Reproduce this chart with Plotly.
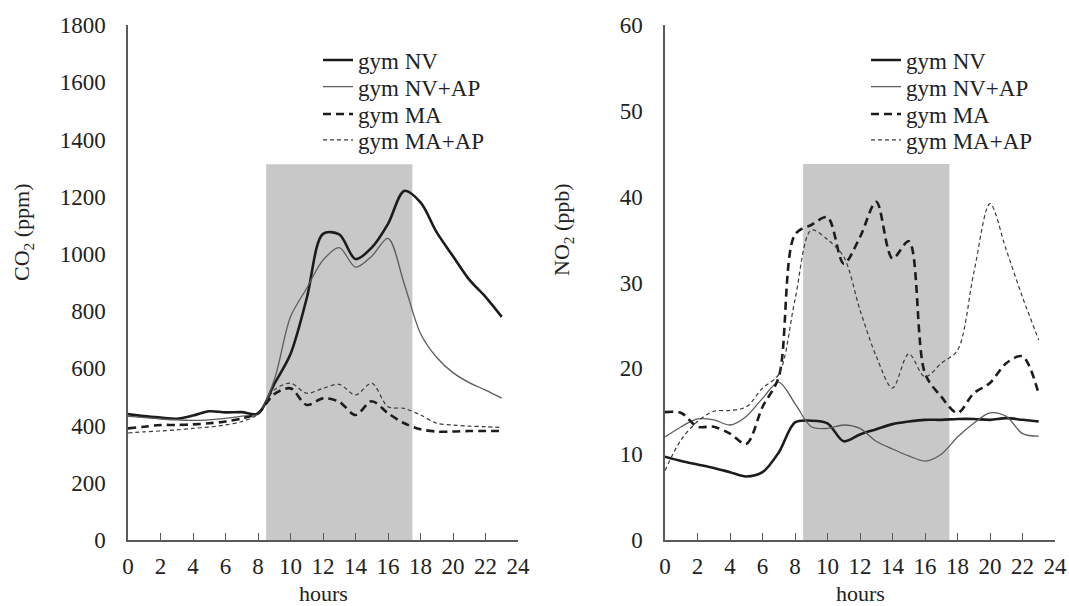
import plotly.graph_objects as go

# ---------------- data ----------------
hours = list(range(24))

co2_nv = [440, 433, 428, 424, 435, 450, 446, 447, 442, 545, 650, 845, 1070, 1068, 982, 1022, 1105, 1220, 1180, 1075, 992, 910, 850, 780]
co2_nv_ap = [432, 428, 423, 420, 418, 420, 425, 433, 440, 560, 780, 880, 978, 1022, 954, 992, 1054, 895, 722, 638, 585, 550, 524, 496]
co2_ma = [390, 396, 402, 402, 404, 408, 414, 425, 443, 510, 530, 472, 495, 483, 437, 485, 443, 408, 387, 379, 379, 381, 381, 381]
co2_ma_ap = [374, 378, 381, 385, 390, 395, 402, 414, 440, 524, 548, 513, 530, 544, 507, 548, 466, 460, 437, 408, 402, 398, 396, 393]

no2_nv = [9.7, 9.2, 8.8, 8.4, 7.9, 7.4, 7.9, 10.2, 13.7, 13.9, 13.6, 11.5, 12.3, 12.9, 13.5, 13.8, 14.0, 14.0, 14.1, 14.1, 14.0, 14.2, 14.0, 13.8]
no2_nv_ap = [12.0, 13.2, 14.1, 14.0, 13.4, 14.4, 16.5, 18.4, 15.9, 13.2, 13.0, 13.4, 13.0, 11.5, 10.6, 9.8, 9.2, 10.0, 12.0, 13.6, 14.8, 14.4, 12.4, 12.1]
no2_ma = [14.9, 14.8, 13.2, 13.2, 12.4, 11.2, 15.5, 19.0, 35.6, 36.7, 37.6, 32.2, 35.3, 39.4, 32.8, 34.8, 19.4, 16.7, 14.8, 17.1, 18.3, 20.6, 21.4, 17.0]
no2_ma_ap = [8.1, 11.7, 13.8, 15.0, 15.1, 15.5, 17.7, 19.3, 28.0, 36.1, 35.0, 33.0, 26.8, 21.4, 17.7, 21.7, 19.0, 20.6, 22.1, 31.1, 39.2, 33.8, 28.3, 23.3]

series_names = ["gym NV", "gym NV+AP", "gym MA", "gym MA+AP"]
shade_start, shade_end = 8.5, 17.5
co2_shade_top, no2_shade_top = 1313, 43.8
x_ticks = list(range(0, 25, 2))

# ---------------- styling ----------------
FONT = "Liberation Serif"
TXT = "#222222"
AXC = "#5a5a5a"
styles = [
    dict(color="#1c1c1c", width=2.6, dash="solid"),
    dict(color="#5c5c5c", width=1.3, dash="solid"),
    dict(color="#1c1c1c", width=2.6, dash="8px,5px"),
    dict(color="#3a3a3a", width=1.2, dash="4px,3px"),
]

W, H = 1069, 606
def px_x(p):
    return p / W
def px_y(p):
    return 1 - p / H

row_y = [60, 86.7, 114, 140]
legend_left_x = [318, 866]

fig = go.Figure()
legend_layout = {}
panels = [
    ("x", "y", [co2_nv, co2_nv_ap, co2_ma, co2_ma_ap]),
    ("x2", "y2", [no2_nv, no2_nv_ap, no2_ma, no2_ma_ap]),
]
k = 0
for p, (xa, ya, datasets) in enumerate(panels):
    for i, (data, st, name) in enumerate(zip(datasets, styles, series_names)):
        k += 1
        lname = "legend" if k == 1 else f"legend{k}"
        fig.add_trace(go.Scatter(x=hours, y=data, name=name, mode="lines",
                                 line=dict(shape="spline", smoothing=0.9, **st),
                                 xaxis=xa, yaxis=ya, legend=lname))
        legend_layout[lname] = dict(x=px_x(legend_left_x[p]), y=px_y(row_y[i]),
                                    xanchor="left", yanchor="middle",
                                    font=dict(family=FONT, size=23, color=TXT),
                                    bgcolor="rgba(0,0,0,0)", borderwidth=0, itemwidth=30)

xcommon = dict(range=[0, 24], tickvals=x_ticks, ticks="inside", ticklen=7, tickwidth=1.3,
               tickcolor=AXC, showline=True, linecolor=AXC, linewidth=1.5,
               showgrid=False, zeroline=False, automargin=False,
               tickfont=dict(family=FONT, size=23, color=TXT), ticklabelstandoff=5)
ycommon = dict(showline=True, linecolor=AXC, linewidth=1.5, showgrid=False, zeroline=False,
               automargin=False, ticks="", tickfont=dict(family=FONT, size=23, color=TXT),
               ticklabelstandoff=16)

fig.update_layout(
    width=W, height=H,
    margin=dict(l=0, r=0, t=0, b=0, pad=0, autoexpand=False),
    paper_bgcolor="white", plot_bgcolor="white",
    xaxis=dict(domain=[px_x(128), px_x(518)], anchor="y", **xcommon),
    yaxis=dict(domain=[px_y(540), px_y(25)], anchor="x", range=[0, 1800], dtick=200, **ycommon),
    xaxis2=dict(domain=[px_x(665), px_x(1055)], anchor="y2", **xcommon),
    yaxis2=dict(domain=[px_y(540), px_y(25)], anchor="x2", range=[0, 60], dtick=10, **ycommon),
    showlegend=True,
    **legend_layout,
)

fig.add_shape(type="rect", xref="x", yref="y", x0=shade_start, x1=shade_end, y0=0, y1=co2_shade_top,
              fillcolor="#c8c8c8", line=dict(width=0), layer="below")
fig.add_shape(type="rect", xref="x2", yref="y2", x0=shade_start, x1=shade_end, y0=0, y1=no2_shade_top,
              fillcolor="#c8c8c8", line=dict(width=0), layer="below")

ann_font = dict(family=FONT, size=22, color=TXT)
fig.add_annotation(text="CO<sub>2</sub> (ppm)", x=px_x(23), y=px_y(232), xref="paper", yref="paper",
                   textangle=-90, showarrow=False, font=ann_font, xanchor="center", yanchor="middle")
fig.add_annotation(text="NO<sub>2</sub> (ppb)", x=px_x(563), y=px_y(230), xref="paper", yref="paper",
                   textangle=-90, showarrow=False, font=ann_font, xanchor="center", yanchor="middle")
fig.add_annotation(text="hours", x=px_x(323), y=px_y(593), xref="paper", yref="paper",
                   showarrow=False, font=ann_font, xanchor="center", yanchor="middle")
fig.add_annotation(text="hours", x=px_x(860), y=px_y(593), xref="paper", yref="paper",
                   showarrow=False, font=ann_font, xanchor="center", yanchor="middle")

fig.write_html("out.html")
